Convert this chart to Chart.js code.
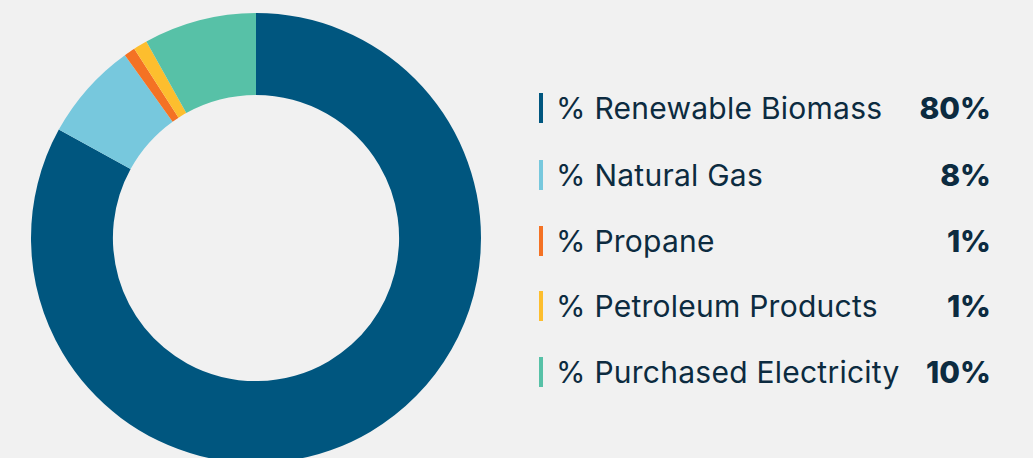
<!DOCTYPE html>
<html><head><meta charset="utf-8">
<script src="https://cdn.jsdelivr.net/npm/chart.js@4"></script>
<style>
html,body{margin:0;padding:0;background:#f1f1f1;width:1033px;height:458px;overflow:hidden;}
#wrap{position:absolute;left:21px;top:3px;width:470px;height:470px;}
#legend{position:absolute;left:539px;top:0;width:452px;font-family:Inter,"Noto Sans",sans-serif;color:#0c2b40;}
.row{position:absolute;left:0;width:452px;height:30px;}
.bar{position:absolute;left:0;top:0;width:4px;height:30px;}
.lab{position:absolute;left:17px;top:50%;transform:translateY(-50%);font-size:30px;font-weight:400;white-space:nowrap;letter-spacing:0.25px;}
.val{position:absolute;right:0;top:50%;transform:translateY(-50%);font-size:30px;font-weight:800;white-space:nowrap;}
</style></head>
<body>
<div id="wrap"><canvas id="c" width="470" height="470"></canvas></div>
<div id="legend"></div>
<script>
const categories = ["% Renewable Biomass","% Natural Gas","% Propane","% Petroleum Products","% Purchased Electricity"];
const legendValues = ["80%","8%","1%","1%","10%"];
const sliceValues = [83.0, 7.1, 0.8, 1.0, 8.1];
const colors = ["#00567f","#77c8dd","#f47224","#fdbe2e","#57c1a7"];

const rowCenters = [108,175,241,306,372];
const lg = document.getElementById('legend');
categories.forEach((c,i)=>{
  const r = document.createElement('div');
  r.className='row'; r.style.top=(rowCenters[i]-15)+'px';
  r.innerHTML = '<div class="bar" style="background:'+colors[i]+'"></div><div class="lab">'+c+'</div><div class="val">'+legendValues[i]+'</div>';
  lg.appendChild(r);
});

new Chart(document.getElementById('c'), {
  type:'doughnut',
  data:{labels:categories,datasets:[{data:sliceValues,backgroundColor:colors,borderWidth:0}]},
  options:{responsive:false,animation:false,events:[],layout:{padding:0},radius:225,cutout:'63.6%',
    plugins:{legend:{display:false},tooltip:{enabled:false}}}
});
</script>
</body></html>
